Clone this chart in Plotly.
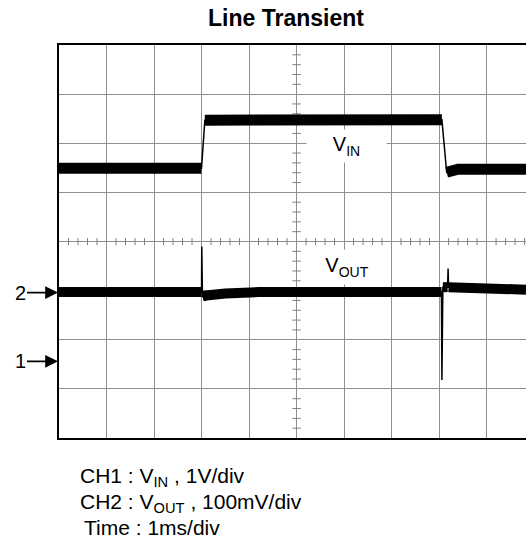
import numpy as np
import plotly.graph_objects as go

# ---- data (in scope divisions) ----
vin_t = [0.00, 3.00, 3.07, 8.06, 8.16, 8.40, 9.83]
vin_v = [5.49, 5.49, 6.47, 6.48, 5.41, 5.47, 5.47]

vout_t = [0.00, 3.00, 3.005, 3.02, 3.10, 3.50, 4.20, 8.05, 8.06, 8.08, 8.18, 8.19, 8.20, 9.00, 9.83]
vout_v = [2.97, 2.97, 3.90, 2.88, 2.90, 2.94, 2.97, 2.97, 1.18, 3.07, 3.07, 3.45, 3.07, 3.04, 3.02]

ch_labels = ["2", "1"]
ch_levels = [2.96, 1.56]

title = "<b>Line Transient</b>"
notes = ["CH1 : V<sub>IN</sub> , 1V/div",
         "CH2 : V<sub>OUT</sub> , 100mV/div",
         "Time : 1ms/div"]

FONT = "Liberation Sans, Arial, sans-serif"


def plateau(t, v, jump=0.15):
    xs, ys = [], []
    for i in range(len(t) - 1):
        if abs(v[i + 1] - v[i]) < jump:
            if xs and xs[-1] is not None and xs[-1] == t[i]:
                xs.append(t[i + 1]); ys.append(v[i + 1])
            else:
                if xs:
                    xs.append(None); ys.append(None)
                xs += [t[i], t[i + 1]]; ys += [v[i], v[i + 1]]
    return xs, ys


fig = go.Figure()

# centre graticule ticks
tick_x = [x for x in np.arange(0, 9.9, 0.2) if abs(x - round(x)) > 1e-6]
tick_y = [y for y in np.arange(0, 8.01, 0.2) if abs(y - round(y)) > 1e-6]
fig.add_trace(go.Scatter(x=tick_x, y=[4] * len(tick_x), mode="markers",
                         marker=dict(symbol="line-ns", size=5, line=dict(width=1, color="#808080")),
                         hoverinfo="skip", showlegend=False))
fig.add_trace(go.Scatter(x=[5] * len(tick_y), y=tick_y, mode="markers",
                         marker=dict(symbol="line-ew", size=6, line=dict(width=1, color="#808080")),
                         hoverinfo="skip", showlegend=False))

for t, v, w in [(vin_t, vin_v, 11), (vout_t, vout_v, 10)]:
    bx, by = plateau(t, v)
    fig.add_trace(go.Scatter(x=bx, y=by, mode="lines",
                             line=dict(color="black", width=w), showlegend=False))
    fig.add_trace(go.Scatter(x=t, y=v, mode="lines",
                             line=dict(color="black", width=1.5), showlegend=False))

ann = []
ann.append(dict(text=title, x=0.486, y=(438 - 18) / 393, xref="paper", yref="paper",
                xanchor="center", yanchor="middle", showarrow=False,
                font=dict(family=FONT, size=23, color="black")))
for i, n in enumerate(notes):
    px = 78 if i < 2 else 82
    ann.append(dict(text=n, x=(px - 59) / 467, y=(438 - (462 + 26 * i)) / 393,
                    xref="paper", yref="paper", xanchor="left", yanchor="top",
                    showarrow=False, font=dict(family=FONT, size=21, color="black")))
ann.append(dict(text="V<sub>IN</sub>", x=6.05, y=5.94, xref="x", yref="y",
                showarrow=False, bgcolor="white", width=77, height=30,
                font=dict(family=FONT, size=20, color="black")))
ann.append(dict(text="V<sub>OUT</sub>", x=6.06, y=3.49, xref="x", yref="y",
                showarrow=False, bgcolor="white", width=74, height=32,
                font=dict(family=FONT, size=20, color="black")))
for lab, lvl in zip(ch_labels, ch_levels):
    ann.append(dict(text=lab, x=0, y=lvl, xref="x", yref="y", showarrow=True,
                    ax=-39, ay=0, arrowhead=2, arrowsize=1.6, arrowwidth=1.6,
                    arrowcolor="black", standoff=1,
                    font=dict(family=FONT, size=20, color="black")))

fig.update_layout(
    width=526, height=539,
    margin=dict(l=59, r=0, t=45, b=101),
    paper_bgcolor="white", plot_bgcolor="white",
    annotations=ann,
    xaxis=dict(range=[0, 9.83], dtick=1, tick0=0, showgrid=True, gridcolor="#8f8f8f",
               gridwidth=1, zeroline=False, showticklabels=False, ticks="",
               showline=True, linecolor="black", linewidth=1.5, mirror=True),
    yaxis=dict(range=[0, 8], dtick=1, tick0=0, showgrid=True, gridcolor="#8f8f8f",
               gridwidth=1, zeroline=False, showticklabels=False, ticks="",
               showline=True, linecolor="black", linewidth=1.5, mirror=False),
)

fig.write_html("out.html", config={"displayModeBar": False},
               post_script="document.body.style.margin='0';document.body.style.overflow='hidden';")
